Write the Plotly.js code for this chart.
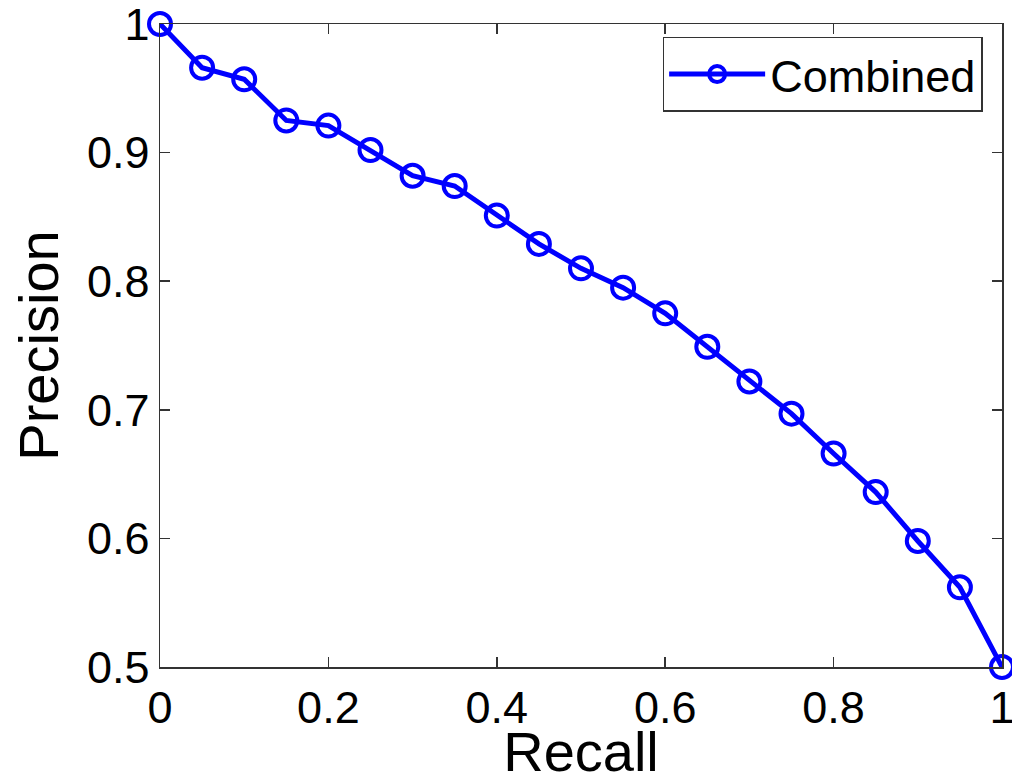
<!DOCTYPE html>
<html>
<head>
<meta charset="utf-8">
<script src="https://cdn.plot.ly/plotly-3.0.1.min.js"></script>
<style>html,body{margin:0;padding:0;background:#fff;}#chart{width:1012px;height:783px;}</style>
</head>
<body>
<div id="chart"></div>
<script>
var recall = [0, 0.05, 0.1, 0.15, 0.2, 0.25, 0.3, 0.35, 0.4, 0.45, 0.5, 0.55, 0.6, 0.65, 0.7, 0.75, 0.8, 0.85, 0.9, 0.95, 1.0];
var precision = [1.0, 0.966, 0.957, 0.925, 0.921, 0.902, 0.882, 0.874, 0.851, 0.829, 0.810, 0.795, 0.775, 0.749, 0.722, 0.697, 0.666, 0.636, 0.598, 0.562, 0.5];
var xTicks = [0, 0.2, 0.4, 0.6, 0.8, 1];
var xTickText = ['0', '0.2', '0.4', '0.6', '0.8', '1'];
var yTicks = [0.5, 0.6, 0.7, 0.8, 0.9, 1];
var yTickText = ['0.5', '0.6', '0.7', '0.8', '0.9', '1'];

var font = 'Liberation Sans, Arial, sans-serif';
var trace = {
  x: recall, y: precision, type: 'scatter', mode: 'lines+markers', name: 'Combined',
  line: {color: '#0000ff', width: 5},
  marker: {symbol: 'circle-open', size: 22, color: '#0000ff', line: {color: '#0000ff', width: 4}},
  cliponaxis: false
};
var axisCommon = {
  showline: true, linecolor: '#333', linewidth: 1.5, mirror: 'ticks',
  ticks: 'inside', ticklen: 10, tickwidth: 1.5, tickcolor: '#333',
  showgrid: false, zeroline: false, tickmode: 'array',
  ticklabeloverflow: 'allow', automargin: false,
  tickfont: {family: font, size: 45, color: '#000'}
};
var layout = {
  width: 1012, height: 783,
  margin: {l: 160, r: 10, t: 24, b: 116},
  paper_bgcolor: '#fff', plot_bgcolor: '#fff',
  showlegend: true,
  xaxis: Object.assign({}, axisCommon, {
    range: [0, 1], tickvals: xTicks, ticktext: xTickText,
    title: {text: 'Recall', font: {family: font, size: 56, color: '#000'}, standoff: 0}
  }),
  yaxis: Object.assign({}, axisCommon, {
    range: [0.5, 1], tickvals: yTicks, ticktext: yTickText,
    title: {text: 'Precision', font: {family: font, size: 56, color: '#000'}, standoff: 10}
  }),
  legend: {
    x: 0.977, y: 0.98, xanchor: 'right', yanchor: 'top',
    bordercolor: '#333', borderwidth: 1.5, bgcolor: '#fff',
    font: {family: font, size: 45, color: '#000'}, itemwidth: 96
  }
};
Plotly.newPlot('chart', [trace], layout, {displayModeBar: false, staticPlot: true});
</script>
</body>
</html>
